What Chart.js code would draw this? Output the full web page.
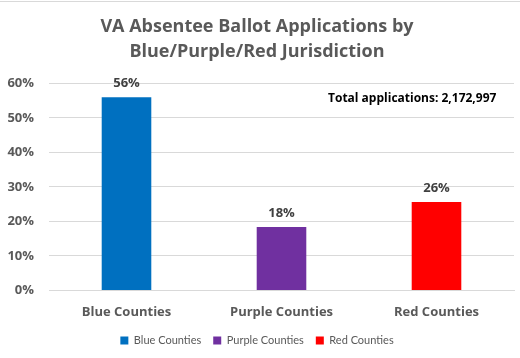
<!DOCTYPE html>
<html><head><meta charset="utf-8">
<script src="https://cdn.jsdelivr.net/npm/chart.js@4/dist/chart.umd.min.js"></script>
<style>
html,body{margin:0;padding:0;background:#fff;}
#wrap{position:relative;width:520px;height:358px;}
#topline{position:absolute;left:0;top:1px;width:520px;height:1px;background:#d9d9d9;}
canvas{position:absolute;left:0;top:0;}
</style></head>
<body>
<div id="wrap"><canvas id="c" width="520" height="358"></canvas><div id="topline"></div></div>
<script>
const titleLines = ["VA Absentee Ballot Applications by", "Blue/Purple/Red Jurisdiction"];
const categories = ["Blue Counties", "Purple Counties", "Red Counties"];
const shares = [56.0, 18.4, 25.6];
const shareLabels = ["56%", "18%", "26%"];
const barColors = ["#0070C0", "#7030A0", "#FF0000"];
const yTicks = [0, 10, 20, 30, 40, 50, 60];
const annotationText = "Total applications: 2,172,997";

const FONT = "'Open Sans', sans-serif";

const labelsPlugin = {
  id: 'labelsPlugin',
  afterDatasetsDraw(chart) {
    const ctx = chart.ctx;
    const meta = chart.getDatasetMeta(0);
    ctx.save();
    ctx.font = "bold 13px " + FONT;
    ctx.fillStyle = "#404040";
    ctx.textAlign = "center";
    ctx.textBaseline = "bottom";
    meta.data.forEach((bar, i) => {
      ctx.fillText(shareLabels[i], bar.x, bar.y - 7);
    });
    const xs = chart.scales.x, ys = chart.scales.y;
    ctx.font = "bold 12px " + FONT;
    ctx.fillStyle = "#000000";
    ctx.textAlign = "left";
    ctx.textBaseline = "middle";
    const ax = (xs.getPixelForValue(1) + xs.getPixelForValue(2)) / 2 - 31;
    ctx.fillText(annotationText, ax, ys.getPixelForValue(55.5));
    ctx.restore();
  }
};

new Chart(document.getElementById('c'), {
  type: 'bar',
  data: {
    labels: categories,
    datasets: [{
      label: "Share",
      data: shares,
      backgroundColor: barColors,
      barPercentage: 0.32,
      categoryPercentage: 1.0
    }]
  },
  options: {
    responsive: false,
    animation: false,
    layout: { padding: { left: 0, right: 6, top: 10, bottom: 2 } },
    plugins: {
      title: {
        display: true,
        text: titleLines,
        color: "#595959",
        font: { family: FONT, size: 18, weight: 'bold', lineHeight: 1.4 },
        padding: { top: 4, bottom: 19 }
      },
      legend: {
        position: 'bottom',
        labels: {
          boxWidth: 8, boxHeight: 8, color: "#595959",
          font: { family: "Lato, sans-serif", size: 11 }, padding: 12,
          generateLabels: () => categories.map((c, i) => ({
            text: c, fillStyle: barColors[i], strokeStyle: barColors[i],
            lineWidth: 0, hidden: false, index: i, fontColor: "#595959"
          }))
        },
        onClick: () => {}
      },
      tooltip: { enabled: false }
    },
    scales: {
      x: {
        afterFit(s) { s.height = s.height - 11; },
        grid: { display: false, drawTicks: false },
        border: { color: "#d9d9d9" },
        ticks: { color: "#595959", font: { family: FONT, size: 13, weight: 'bold' }, padding: 14 }
      },
      y: {
        min: 0, max: 60,
        afterFit(s) { s.width = 49; },
        afterBuildTicks(s) { s.ticks = yTicks.map(v => ({ value: v })); },
        grid: { color: "#d9d9d9", drawTicks: false },
        border: { display: false },
        ticks: {
          color: "#595959", padding: 15,
          font: { family: FONT, size: 13, weight: 'bold' },
          callback: v => v + "%"
        }
      }
    }
  },
  plugins: [labelsPlugin]
});
</script>
</body></html>
